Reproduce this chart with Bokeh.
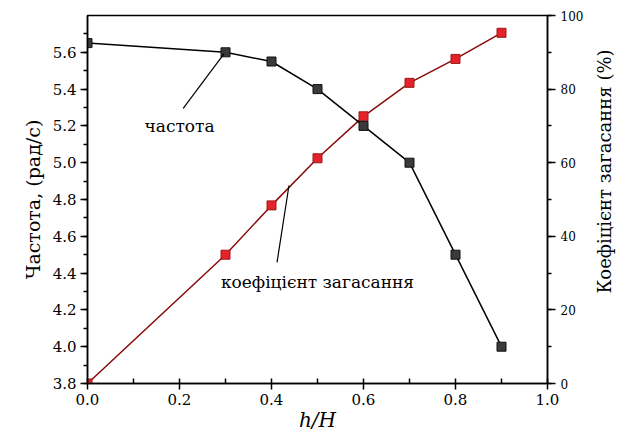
import math
from bokeh.plotting import figure
from bokeh.layouts import row
from bokeh.models import Range1d, LinearAxis, SingleIntervalTicker, NumeralTickFormatter, Label
from bokeh.embed import file_html
from bokeh.resources import INLINE

# data
h_ratio = [0.0, 0.3, 0.4, 0.5, 0.6, 0.7, 0.8, 0.9]
frequency = [5.65, 5.60, 5.55, 5.40, 5.20, 5.00, 4.50, 4.00]
damping = [0.0, 35.0, 48.4, 61.2, 72.6, 81.7, 88.2, 95.3]

freq_label = "частота"
damp_label = "коефіцієнт загасання"
right_title = "Коефіцієнт загасання (%)"
freq_label_pos = (0.124, 5.197)
damp_label_pos = (0.29, 4.349)
freq_leader = ([0.208, 0.297], [5.295, 5.593])
damp_leader = ([0.412, 0.438], [4.458, 4.876])

FONT = "DejaVu Serif"

p = figure(width=586, height=434, output_backend="svg", toolbar_location=None,
           x_range=Range1d(0, 1.0), y_range=Range1d(3.8, 5.8),
           min_border_left=87, min_border_right=38, min_border_top=15, min_border_bottom=51)
p.extra_y_ranges = {"damp": Range1d(0, 100)}
p.grid.visible = False
p.outline_line_color = "black"
p.outline_line_width = 1.5
p.background_fill_color = "white"
p.border_fill_color = "white"


def style(ax, tick_size):
    ax.axis_label_text_font = FONT
    ax.axis_label_text_color = "black"
    ax.major_label_text_font = FONT
    ax.major_label_text_color = "black"
    ax.major_label_text_font_size = tick_size
    ax.axis_line_color = "black"
    ax.major_tick_line_color = "black"
    ax.minor_tick_line_color = "black"
    ax.axis_line_width = 1.5
    ax.major_tick_line_width = 1.5
    ax.minor_tick_line_width = 1.5


# bottom axis
xa = p.xaxis[0]
style(xa, "15px")
xa.ticker = SingleIntervalTicker(interval=0.2, num_minor_ticks=2)
xa.formatter = NumeralTickFormatter(format="0.0")
xa.axis_label = "h/H"
xa.axis_label_text_font_style = "italic"
xa.axis_label_text_font_size = "20px"
xa.axis_label_standoff = 0
xa.major_label_standoff = 4
xa.major_tick_out = 6
xa.major_tick_in = 0
xa.minor_tick_out = 0
xa.minor_tick_in = 5

# left axis
ya = p.yaxis[0]
style(ya, "15px")
ya.ticker = SingleIntervalTicker(interval=0.2, num_minor_ticks=2)
ya.formatter = NumeralTickFormatter(format="0.0")
ya.axis_label = "Частота, (рад/с)"
ya.axis_label_text_font_style = "normal"
ya.axis_label_text_font_size = "19px"
ya.axis_label_standoff = 6
ya.major_label_standoff = 4
ya.major_tick_out = 7
ya.major_tick_in = 0
ya.minor_tick_out = 4
ya.minor_tick_in = 0

# right axis (ticks only; its title is drawn in the side strip below)
ra = LinearAxis(y_range_name="damp")
style(ra, "12px")
ra.ticker = SingleIntervalTicker(interval=20, num_minor_ticks=2)
ra.major_label_standoff = 5
ra.major_tick_out = 8
ra.major_tick_in = 0
ra.minor_tick_out = 4
ra.minor_tick_in = 0
p.add_layout(ra, "right")

# series
p.line(h_ratio, damping, y_range_name="damp", line_color="#8b0a0a", line_width=1.5)
p.scatter(h_ratio, damping, y_range_name="damp", marker="square", size=9,
          fill_color="#e5222a", line_color="#9a1a1a", line_width=1)
p.line(h_ratio, frequency, line_color="black", line_width=1.5)
p.scatter(h_ratio, frequency, marker="square", size=9,
          fill_color="#3a3a3a", line_color="#111111", line_width=1)

# annotations
p.line(freq_leader[0], freq_leader[1], line_color="black", line_width=1.2)
p.line(damp_leader[0], damp_leader[1], line_color="black", line_width=1.2)
p.add_layout(Label(x=freq_label_pos[0], y=freq_label_pos[1], text=freq_label,
                   text_font=FONT, text_font_size="17px", text_baseline="middle",
                   text_align="left", text_color="black"))
p.add_layout(Label(x=damp_label_pos[0], y=damp_label_pos[1], text=damp_label,
                   text_font=FONT, text_font_size="17px", text_baseline="middle",
                   text_align="left", text_color="black"))

# side strip holding the right-axis title, reading bottom to top
side = figure(width=36, height=434, output_backend="svg", toolbar_location=None,
              x_range=Range1d(0, 1), y_range=Range1d(0, 434),
              x_axis_type=None, y_axis_type=None,
              min_border_left=0, min_border_right=0, min_border_top=0, min_border_bottom=0)
side.grid.visible = False
side.outline_line_color = None
side.background_fill_color = "white"
side.border_fill_color = "white"
side.add_layout(Label(x=0.5, y=250, text=right_title, angle=math.pi / 2,
                      text_font=FONT, text_font_size="18px", text_color="black",
                      text_align="center", text_baseline="middle"))

layout = row(p, side, spacing=0)
open("out.html", "w").write(file_html(layout, INLINE))
